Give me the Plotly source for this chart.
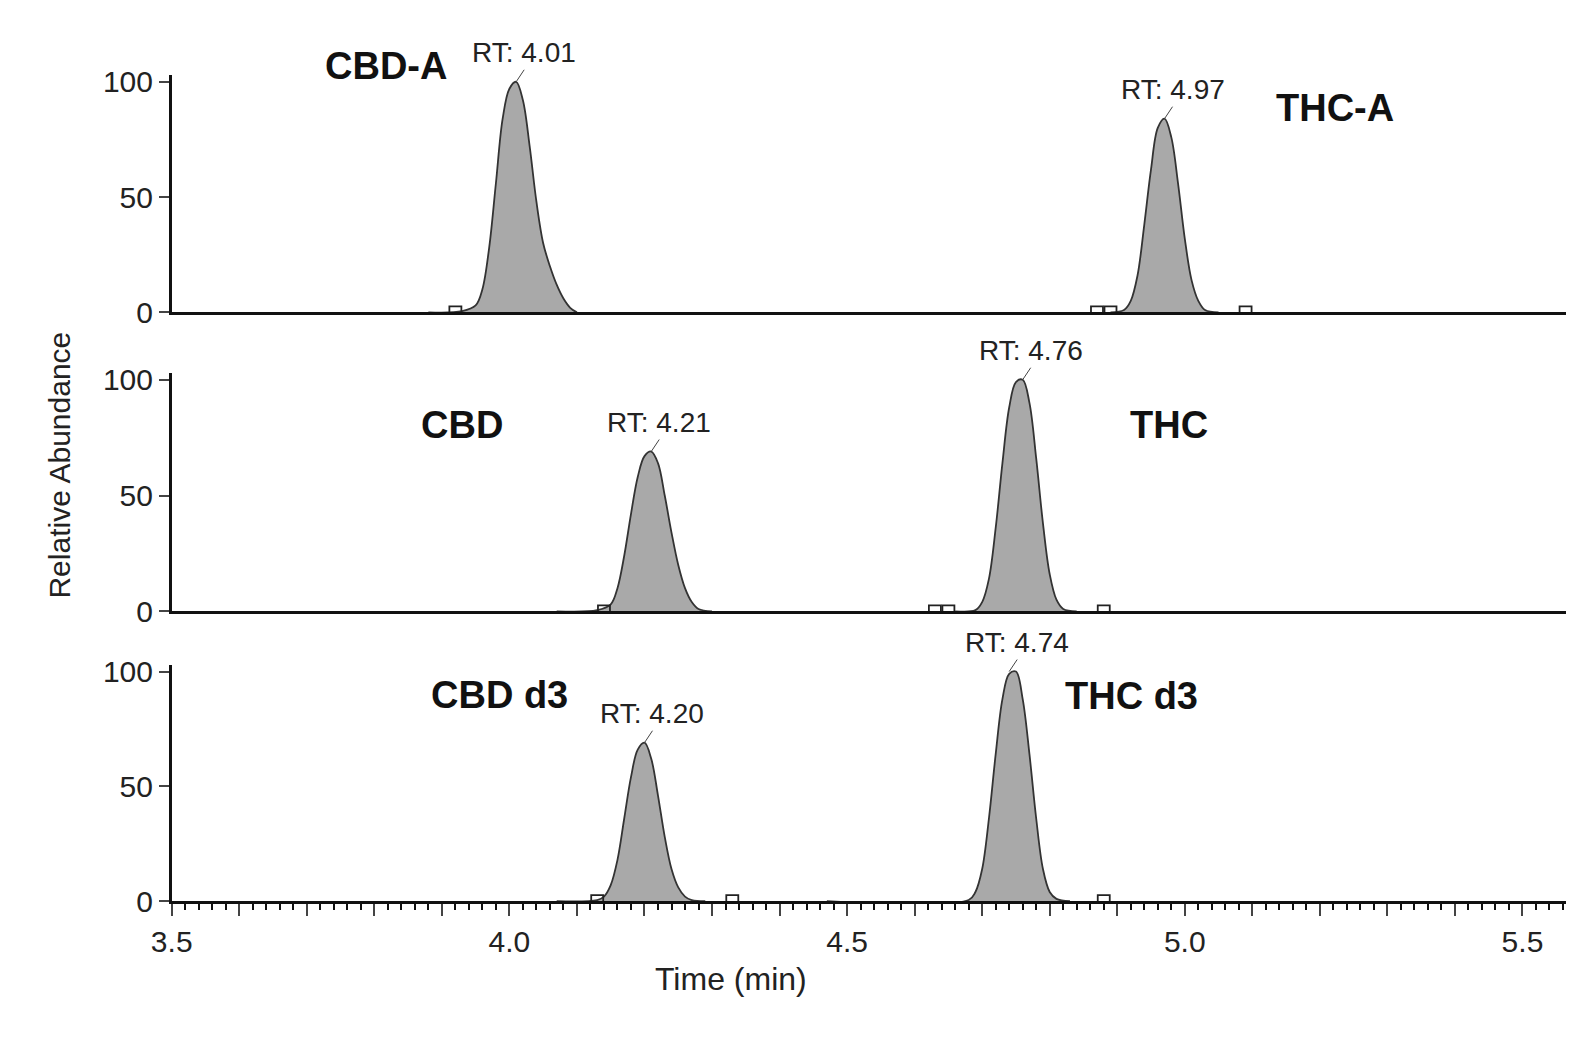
import plotly.graph_objects as go

W, H = 1587, 1051
FONT = "Liberation Sans"

# ---- data ----
cbda_t = [3.88, 3.93, 3.95, 3.96, 3.97, 3.98, 3.99, 4.00, 4.01, 4.02, 4.03, 4.04, 4.05, 4.06, 4.07, 4.08, 4.09, 4.10]
cbda_y = [0, 0.5, 3, 10, 28, 56, 84, 97, 100, 92, 72, 48, 30, 20, 12, 6, 2, 0]
thca_t = [4.89, 4.91, 4.92, 4.93, 4.94, 4.95, 4.96, 4.97, 4.98, 4.99, 5.00, 5.01, 5.02, 5.03, 5.05]
thca_y = [0, 1, 5, 16, 38, 62, 80, 84, 76, 56, 32, 14, 5, 1, 0]
cbd_t = [4.07, 4.13, 4.15, 4.16, 4.17, 4.18, 4.19, 4.20, 4.21, 4.22, 4.23, 4.24, 4.25, 4.26, 4.27, 4.28, 4.30]
cbd_y = [0, 0.5, 3, 10, 24, 42, 58, 67, 69, 64, 50, 34, 20, 10, 4, 1, 0]
thc_t = [4.66, 4.69, 4.70, 4.71, 4.72, 4.73, 4.74, 4.75, 4.76, 4.77, 4.78, 4.79, 4.80, 4.81, 4.82, 4.84]
thc_y = [0, 0.5, 4, 14, 36, 64, 88, 99, 100, 90, 66, 38, 16, 5, 1, 0]
cbdd3_t = [4.07, 4.13, 4.14, 4.15, 4.16, 4.17, 4.18, 4.19, 4.20, 4.21, 4.22, 4.23, 4.24, 4.25, 4.26, 4.27, 4.29]
cbdd3_y = [0, 0.5, 2, 7, 18, 36, 54, 66, 69, 62, 46, 28, 14, 6, 2, 0.5, 0]
thcd3_t = [4.47, 4.68, 4.69, 4.70, 4.71, 4.72, 4.73, 4.74, 4.75, 4.76, 4.77, 4.78, 4.79, 4.80, 4.81, 4.83]
thcd3_y = [0, 0.5, 4, 14, 36, 64, 88, 99, 100, 88, 64, 36, 14, 4, 1, 0]

marks_top = [3.92, 4.87, 4.89, 5.09]
marks_mid = [4.14, 4.63, 4.65, 4.88]
marks_bot = [4.13, 4.33, 4.88]

rt_top = [(4.01, 100, "RT: 4.01"), (4.97, 84, "RT: 4.97")]
rt_mid = [(4.21, 69, "RT: 4.21"), (4.76, 100, "RT: 4.76")]
rt_bot = [(4.20, 69, "RT: 4.20"), (4.74, 100, "RT: 4.74")]

names = [("CBD-A", 315, 40), ("THC-A", 1380, 82), ("CBD", 410, 420),
         ("THC", 1195, 420), ("CBD d3", 420, 688), ("THC d3", 1185, 712)]

# ---- layout geometry (with empirical correction for rendering offset) ----
def py(p):
    q = (p - 14.5) / 0.969
    return 1 - q / H
def px(p):
    q = (p - 23.4) / 0.979
    return q / W

panels = [(py(308), py(72)), (py(605), py(368)), (py(893), py(658))]
xdom = [px(165), min(1.0, px(1548))]
XR = [3.5, 5.564]

fig = go.Figure()
groups = [
    [(cbda_t, cbda_y), (thca_t, thca_y)],
    [(cbd_t, cbd_y), (thc_t, thc_y)],
    [(cbdd3_t, cbdd3_y), (thcd3_t, thcd3_y)],
]
markset = [marks_top, marks_mid, marks_bot]
rts = [rt_top, rt_mid, rt_bot]
TXT = "#222"

for i in range(3):
    xa = "x" if i == 0 else f"x{i+1}"
    ya = "y" if i == 0 else f"y{i+1}"
    for t, y in groups[i]:
        fig.add_trace(go.Scatter(x=t, y=y, mode="lines", fill="tozeroy",
                                 fillcolor="#a9a9a9", line=dict(color="#333", width=1.8, shape="spline"),
                                 xaxis=xa, yaxis=ya, showlegend=False))
    fig.add_trace(go.Scatter(x=markset[i], y=[0] * len(markset[i]), mode="markers",
                             marker=dict(symbol="square-open", size=12, color="#222", line=dict(width=1.8)),
                             xaxis=xa, yaxis=ya, showlegend=False))
    for (t, v, txt) in rts[i]:
        fig.add_annotation(x=t, y=v, xref=xa, yref=ya, text=txt, showarrow=True,
                           arrowhead=0, arrowwidth=1, arrowcolor="#444", ax=8, ay=-12,
                           yanchor="bottom", font=dict(size=28, color=TXT, family=FONT))
    ax_common = dict(domain=xdom, range=XR, showline=True, linecolor="#111", linewidth=2.5,
                     zeroline=False, showgrid=False)
    yax = dict(domain=list(panels[i]), range=[0, 103], tickvals=[0, 50, 100],
               showline=True, linecolor="#111", linewidth=2.5, ticks="outside", ticklen=10,
               tickwidth=2, showgrid=False, zeroline=False,
               tickfont=dict(size=30, family=FONT, color=TXT))
    if i < 2:
        xax = dict(ax_common, showticklabels=False, ticks="", anchor=ya, matches="x3")
    else:
        vals = [round(3.5 + 0.1 * k, 1) for k in range(21)]
        xax = dict(ax_common, anchor=ya, tickvals=vals,
                   ticktext=[f"{v:.1f}" if abs(v * 2 - round(v * 2)) < 1e-6 else "" for v in vals],
                   ticks="outside", ticklen=12, tickwidth=2,
                   minor=dict(dtick=0.02, ticks="outside", ticklen=6, tickwidth=1.5, tickcolor="#111"),
                   tickfont=dict(size=30, family=FONT, color=TXT))
    fig.layout[("xaxis" if i == 0 else f"xaxis{i+1}")] = xax
    fig.layout[("yaxis" if i == 0 else f"yaxis{i+1}")] = yax

for txt, x, y in names:
    fig.add_annotation(x=px(x), y=py(y), xref="paper", yref="paper", text=f"<b>{txt}</b>",
                       showarrow=False, font=dict(size=38, family=FONT, color="#111"))

fig.add_annotation(x=px(35), y=py(460), xref="paper", yref="paper", text="Relative Abundance",
                   textangle=-90, showarrow=False, font=dict(size=30, family=FONT, color=TXT))
fig.add_annotation(x=px(720), y=py(990), xref="paper", yref="paper", text="Time (min)",
                   showarrow=False, font=dict(size=32, family=FONT, color=TXT))

fig.update_layout(width=W, height=H, margin=dict(l=0, r=0, t=0, b=0),
                  plot_bgcolor="white", paper_bgcolor="white")
fig.write_html("out.html")
